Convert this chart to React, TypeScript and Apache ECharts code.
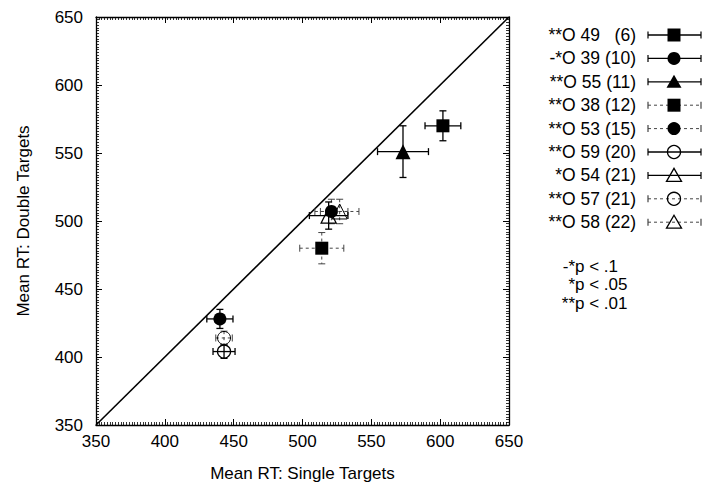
import React, { useEffect, useRef } from "react";
import * as echarts from "echarts";

const names = [
  "**O 49   (6)",
  "-*O 39 (10)",
  "**O 55 (11)",
  "**O 38 (12)",
  "**O 53 (15)",
  "**O 59 (20)",
  "*O 54 (21)",
  "**O 57 (21)",
  "**O 58 (22)",
];
const xVals = [602, 440, 573, 514, 521, 443, 519, 443, 527];
const yVals = [570, 428, 551, 480, 507, 404, 504, 414, 507];
const xErr = [13, 9.5, 18.5, 16, 12, 8, 14, 6, 14];
const yErr = [11, 7, 19, 11.5, 9, 5, 10, 5, 9];
const symbols = ["rect", "circle", "triangle", "rect", "circle", "circle", "triangle", "circle", "triangle"];
const filled = [true, true, true, true, true, false, false, false, false];
const dashed = [false, false, false, true, true, false, false, true, true];
const axisTicks = [350, 400, 450, 500, 550, 600, 650];
const diagonal = [[350, 350], [650, 650]];
const notePrefixes = ["-*", "*", "**"];
const noteTexts = ["p < .1", "p < .05", "p < .01"];

const FONT = "Liberation Sans, Arial, Helvetica, sans-serif";

function symbolSize(s: string) {
  if (s === "rect") return 13;
  if (s === "triangle") return 15;
  return 13;
}

export default function App() {
  const ref = useRef<HTMLDivElement>(null);
  useEffect(() => {
    if (!ref.current) return;
    const chart = echarts.init(ref.current, undefined, { renderer: "svg" });
    const series: any[] = [];
    series.push({
      type: "line",
      data: diagonal,
      showSymbol: false,
      symbol: "none",
      lineStyle: { color: "#000", width: 1.6 },
      z: 1,
    });
    names.forEach((n, i) => {
      const dash = dashed[i];
      series.push({
        type: "custom",
        name: n + "-err",
        data: [[xVals[i], yVals[i], xErr[i], yErr[i]]],
        z: 2,
        renderItem: (params: any, api: any) => {
          const x = api.value(0), y = api.value(1), ex = api.value(2), ey = api.value(3);
          const l = api.coord([x - ex, y]);
          const r = api.coord([x + ex, y]);
          const t = api.coord([x, y + ey]);
          const b = api.coord([x, y - ey]);
          const style = {
            stroke: dash ? "#444" : "#000",
            lineWidth: dash ? 1 : 1.3,
            lineDash: dash ? [3, 3] : null,
            fill: null,
          };
          const capStyle = { stroke: dash ? "#444" : "#000", lineWidth: dash ? 1 : 1.3 };
          const c = 3.5;
          return {
            type: "group",
            children: [
              { type: "line", shape: { x1: l[0], y1: l[1], x2: r[0], y2: r[1] }, style },
              { type: "line", shape: { x1: t[0], y1: t[1], x2: b[0], y2: b[1] }, style },
              { type: "line", shape: { x1: l[0], y1: l[1] - c, x2: l[0], y2: l[1] + c }, style: capStyle },
              { type: "line", shape: { x1: r[0], y1: r[1] - c, x2: r[0], y2: r[1] + c }, style: capStyle },
              { type: "line", shape: { x1: t[0] - c, y1: t[1], x2: t[0] + c, y2: t[1] }, style: capStyle },
              { type: "line", shape: { x1: b[0] - c, y1: b[1], x2: b[0] + c, y2: b[1] }, style: capStyle },
            ],
          };
        },
      });
      series.push({
        type: "scatter",
        name: n,
        data: [[xVals[i], yVals[i]]],
        symbol: symbols[i],
        symbolSize: symbolSize(symbols[i]),
        z: 3,
        itemStyle: filled[i]
          ? { color: "#000", borderColor: "#000", borderWidth: 0, opacity: 1 }
          : { color: "rgba(0,0,0,0)", borderColor: "#000", borderWidth: dashed[i] ? 1 : 1.3, opacity: 1 },
      });
    });

    const graphics: any[] = [];
    names.forEach((n, i) => {
      const y = 35 + i * 23.4;
      const dash = dashed[i];
      const col = dash ? "#444" : "#000";
      graphics.push({
        type: "text",
        x: 636,
        y,
        style: { text: n, textAlign: "right", textVerticalAlign: "middle", font: `17.5px ${FONT}`, fill: "#000" },
      });
      const ls = { stroke: col, lineWidth: dash ? 1 : 1.3, lineDash: dash ? [3, 3] : null };
      graphics.push({ type: "line", shape: { x1: 648, y1: y, x2: 701, y2: y }, style: ls });
      graphics.push({ type: "line", shape: { x1: 648, y1: y - 3.5, x2: 648, y2: y + 3.5 }, style: { stroke: col, lineWidth: 1.2 } });
      graphics.push({ type: "line", shape: { x1: 701, y1: y - 3.5, x2: 701, y2: y + 3.5 }, style: { stroke: col, lineWidth: 1.2 } });
      const cx = 674;
      const mstyle = filled[i] ? { fill: "#000" } : { fill: "rgba(0,0,0,0)", stroke: "#000", lineWidth: 1.3 };
      if (symbols[i] === "rect") {
        graphics.push({ type: "rect", shape: { x: cx - 6.5, y: y - 6.5, width: 13, height: 13 }, style: mstyle });
      } else if (symbols[i] === "circle") {
        graphics.push({ type: "circle", shape: { cx, cy: y, r: 6.5 }, style: mstyle });
      } else {
        graphics.push({
          type: "polygon",
          shape: { points: [[cx, y - 7], [cx + 7.5, y + 6], [cx - 7.5, y + 6]] },
          style: mstyle,
        });
      }
    });
    notePrefixes.forEach((p, i) => {
      const y = 266 + i * 18.8;
      graphics.push({
        type: "text", x: 575, y,
        style: { text: p, textAlign: "right", textVerticalAlign: "middle", font: `17px ${FONT}`, fill: "#000" },
      });
      graphics.push({
        type: "text", x: 575, y,
        style: { text: noteTexts[i], textAlign: "left", textVerticalAlign: "middle", font: `17px ${FONT}`, fill: "#000" },
      });
    });

    const baseAxis = {
      min: axisTicks[0],
      max: axisTicks[axisTicks.length - 1],
      interval: 50,
      axisLine: { show: true, onZero: false, lineStyle: { color: "#000", width: 1.3 } },
      axisTick: { show: true, inside: true, length: 6, lineStyle: { color: "#000", width: 1 } },
      minorTick: { show: true, splitNumber: 25, length: 3, lineStyle: { color: "#000", width: 0.8 } },
      splitLine: { show: false },
      minorSplitLine: { show: false },
    };

    chart.setOption({
      animation: false,
      backgroundColor: "#fff",
      textStyle: { fontFamily: FONT },
      grid: { left: 96, top: 17, width: 413, height: 410, containLabel: false },
      xAxis: [
        {
          ...baseAxis,
          type: "value",
          position: "bottom",
          name: "Mean RT: Single Targets",
          nameLocation: "middle",
          nameGap: 40,
          nameTextStyle: { fontSize: 17, color: "#000", fontFamily: FONT },
          axisLabel: { fontSize: 17, color: "#000", margin: 8, fontFamily: FONT },
        },
        {
          ...baseAxis,
          type: "value",
          position: "top",
          axisLabel: { show: false },
        },
      ],
      yAxis: [
        {
          ...baseAxis,
          type: "value",
          position: "left",
          name: "Mean RT: Double Targets",
          nameLocation: "middle",
          nameGap: 64,
          nameTextStyle: { fontSize: 17, color: "#000", fontFamily: FONT },
          axisLabel: { fontSize: 17, color: "#000", margin: 13, fontFamily: FONT },
        },
        {
          ...baseAxis,
          type: "value",
          position: "right",
          axisLabel: { show: false },
        },
      ],
      series,
      graphic: graphics,
    });
    return () => chart.dispose();
  }, []);
  return <div ref={ref} style={{ width: 703, height: 487, position: "absolute", left: 0, top: 0 }} />;
}
